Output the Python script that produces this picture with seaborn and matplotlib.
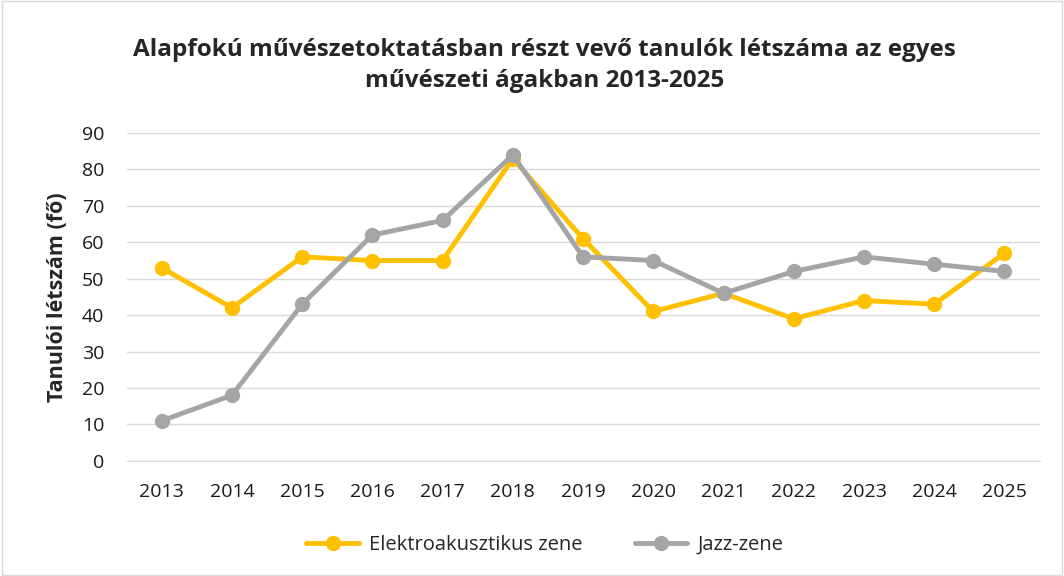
import pandas as pd
import seaborn as sns
import matplotlib.pyplot as plt
from matplotlib.patches import Rectangle

# Data
years = list(range(2013, 2026))
elektro = [53, 42, 56, 55, 55, 83, 61, 41, 46, 39, 44, 43, 57]
jazz = [11, 18, 43, 62, 66, 84, 56, 55, 46, 52, 56, 54, 52]
series_names = ["Elektroakusztikus zene", "Jazz-zene"]
colors = ["#FFC000", "#A5A5A5"]

df = pd.DataFrame({
    "year": years * 2,
    "value": elektro + jazz,
    "series": [series_names[0]] * len(years) + [series_names[1]] * len(years),
})

sns.set_style("white")
plt.rcParams["font.family"] = ["Open Sans", "DejaVu Sans"]

fig = plt.figure(figsize=(10.64, 5.76), dpi=100)
ax = fig.add_axes([0.119, 0.2, 0.858, 0.569])

sns.lineplot(data=df, x="year", y="value", hue="series", palette=colors,
             marker="o", markersize=11, markeredgewidth=0, linewidth=3.5,
             ax=ax, legend=False)

ax.set_xlim(years[0] - 0.5, years[-1] + 0.5)
ax.set_ylim(0, 90)
ax.set_xticks(years)
ax.set_yticks(range(0, 91, 10))
ax.tick_params(axis="both", labelsize=14, length=0, colors="#1a1a1a")
ax.tick_params(axis="x", pad=16)
ax.tick_params(axis="y", pad=16)
ax.yaxis.grid(True, color="#D9D9D9", linewidth=1)
ax.set_axisbelow(True)
for s in ["top", "right", "left"]:
    ax.spines[s].set_visible(False)
ax.spines["bottom"].set_color("#D9D9D9")
ax.set_xlabel("")
ax.set_ylabel("Tanulói létszám (fő)", fontsize=15.5, fontweight="bold", labelpad=10)

fig.text(0.512, 0.886, "Alapfokú művészetoktatásban részt vevő tanulók létszáma az egyes\nművészeti ágakban 2013-2025",
         ha="center", va="center", fontsize=17.5, fontweight="bold", linespacing=1.4)

handles = [plt.Line2D([0], [0], color=c, marker="o", markersize=11, linewidth=3.5, markeredgewidth=0)
           for c in colors]
fig.legend(handles, series_names, loc="center", bbox_to_anchor=(0.512, 0.054), ncol=2,
           frameon=False, fontsize=14.5, handlelength=2.6, handletextpad=0.5, columnspacing=2.6)

fig.patches.append(Rectangle((0.002, 0.002), 0.996, 0.996, transform=fig.transFigure,
                             fill=False, edgecolor="#D9D9D9", linewidth=1))

fig.savefig("out.png", dpi=100)
